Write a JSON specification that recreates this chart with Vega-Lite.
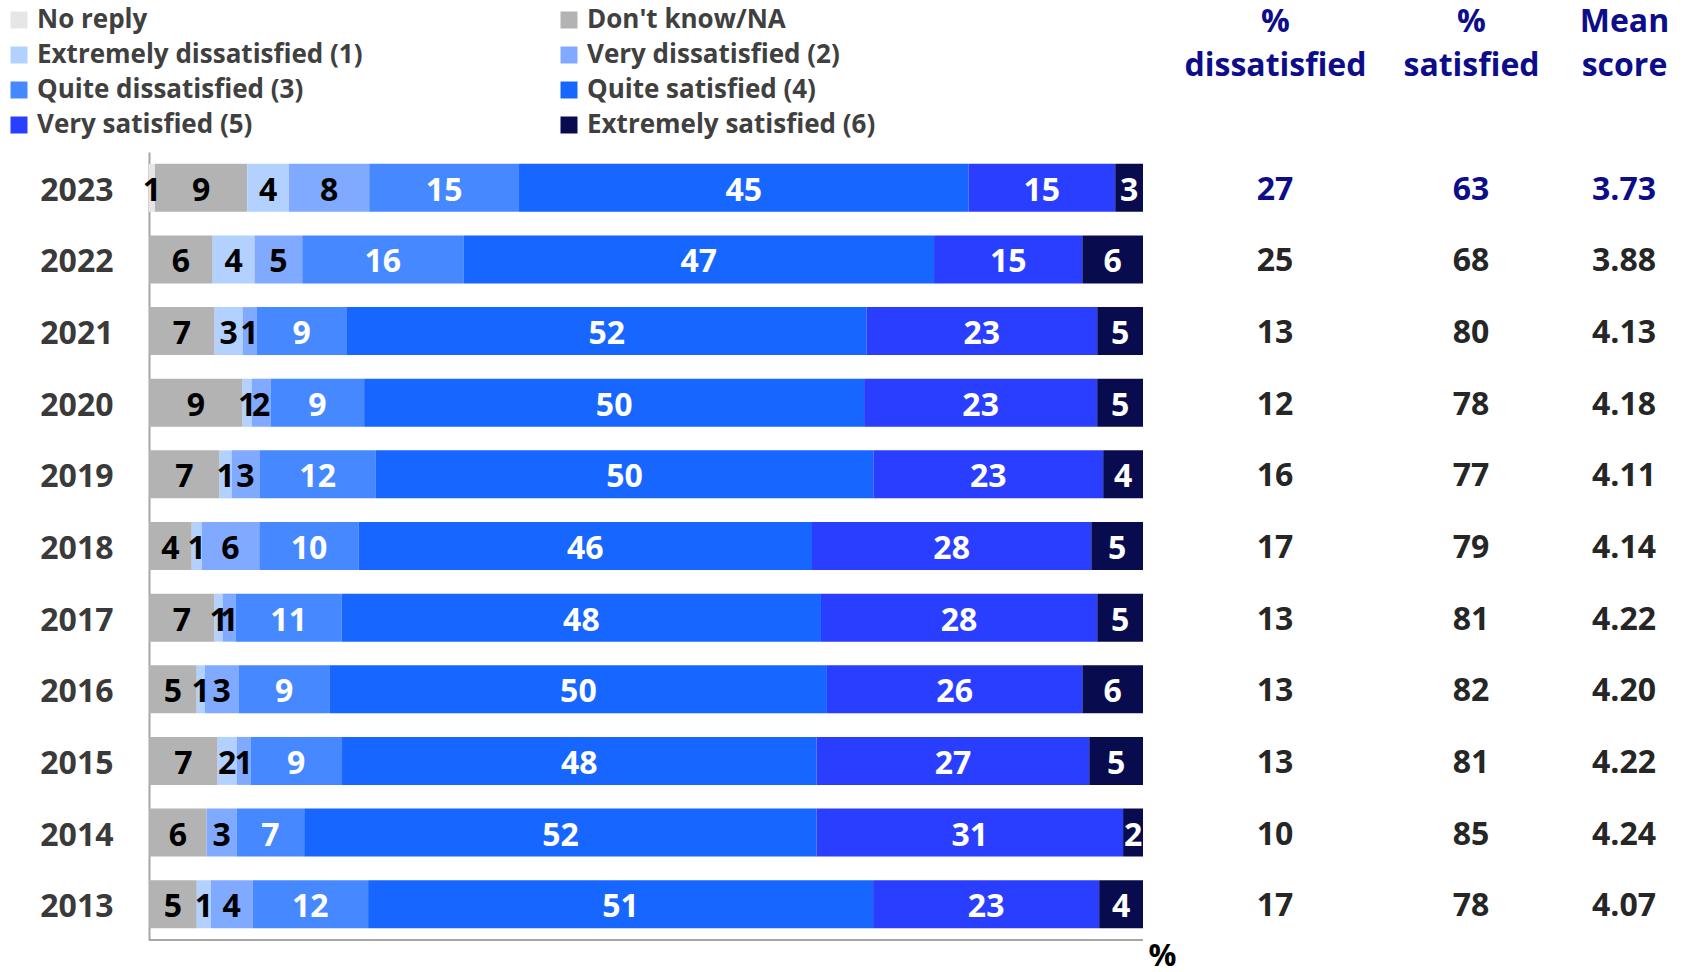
{
  "$schema": "https://vega.github.io/schema/vega-lite/v6.json",
  "width": 1536,
  "height": 788,
  "autosize": {"type": "none"},
  "padding": {"left": 149, "top": 152, "right": 0, "bottom": 32},
  "background": "white",
  "config": {
    "view": {"stroke": null},
    "font": "Open Sans",
    "axis": {"grid": false}
  },
  "datasets": {
    "bars": [
      {"year": 2023, "cat": "No reply", "value": 0.6},
      {"year": 2023, "cat": "Don't know/NA", "value": 9.3},
      {"year": 2023, "cat": "Extremely dissatisfied (1)", "value": 4.2},
      {"year": 2023, "cat": "Very dissatisfied (2)", "value": 8.1},
      {"year": 2023, "cat": "Quite dissatisfied (3)", "value": 15.1},
      {"year": 2023, "cat": "Quite satisfied (4)", "value": 45.3},
      {"year": 2023, "cat": "Very satisfied (5)", "value": 14.8},
      {"year": 2023, "cat": "Extremely satisfied (6)", "value": 2.8},
      {"year": 2022, "cat": "No reply", "value": 0},
      {"year": 2022, "cat": "Don't know/NA", "value": 6.4},
      {"year": 2022, "cat": "Extremely dissatisfied (1)", "value": 4.2},
      {"year": 2022, "cat": "Very dissatisfied (2)", "value": 4.8},
      {"year": 2022, "cat": "Quite dissatisfied (3)", "value": 16.2},
      {"year": 2022, "cat": "Quite satisfied (4)", "value": 47.3},
      {"year": 2022, "cat": "Very satisfied (5)", "value": 14.9},
      {"year": 2022, "cat": "Extremely satisfied (6)", "value": 6.1},
      {"year": 2021, "cat": "No reply", "value": 0},
      {"year": 2021, "cat": "Don't know/NA", "value": 6.6},
      {"year": 2021, "cat": "Extremely dissatisfied (1)", "value": 2.8},
      {"year": 2021, "cat": "Very dissatisfied (2)", "value": 1.4},
      {"year": 2021, "cat": "Quite dissatisfied (3)", "value": 9.1},
      {"year": 2021, "cat": "Quite satisfied (4)", "value": 52.2},
      {"year": 2021, "cat": "Very satisfied (5)", "value": 23.2},
      {"year": 2021, "cat": "Extremely satisfied (6)", "value": 4.6},
      {"year": 2020, "cat": "No reply", "value": 0},
      {"year": 2020, "cat": "Don't know/NA", "value": 9.4},
      {"year": 2020, "cat": "Extremely dissatisfied (1)", "value": 0.9},
      {"year": 2020, "cat": "Very dissatisfied (2)", "value": 1.9},
      {"year": 2020, "cat": "Quite dissatisfied (3)", "value": 9.4},
      {"year": 2020, "cat": "Quite satisfied (4)", "value": 50.2},
      {"year": 2020, "cat": "Very satisfied (5)", "value": 23.4},
      {"year": 2020, "cat": "Extremely satisfied (6)", "value": 4.6},
      {"year": 2019, "cat": "No reply", "value": 0},
      {"year": 2019, "cat": "Don't know/NA", "value": 7.1},
      {"year": 2019, "cat": "Extremely dissatisfied (1)", "value": 1.2},
      {"year": 2019, "cat": "Very dissatisfied (2)", "value": 2.8},
      {"year": 2019, "cat": "Quite dissatisfied (3)", "value": 11.7},
      {"year": 2019, "cat": "Quite satisfied (4)", "value": 50.0},
      {"year": 2019, "cat": "Very satisfied (5)", "value": 23.1},
      {"year": 2019, "cat": "Extremely satisfied (6)", "value": 4.0},
      {"year": 2018, "cat": "No reply", "value": 0},
      {"year": 2018, "cat": "Don't know/NA", "value": 4.3},
      {"year": 2018, "cat": "Extremely dissatisfied (1)", "value": 1.0},
      {"year": 2018, "cat": "Very dissatisfied (2)", "value": 5.8},
      {"year": 2018, "cat": "Quite dissatisfied (3)", "value": 10.0},
      {"year": 2018, "cat": "Quite satisfied (4)", "value": 45.6},
      {"year": 2018, "cat": "Very satisfied (5)", "value": 28.1},
      {"year": 2018, "cat": "Extremely satisfied (6)", "value": 5.2},
      {"year": 2017, "cat": "No reply", "value": 0},
      {"year": 2017, "cat": "Don't know/NA", "value": 6.6},
      {"year": 2017, "cat": "Extremely dissatisfied (1)", "value": 0.8},
      {"year": 2017, "cat": "Very dissatisfied (2)", "value": 1.3},
      {"year": 2017, "cat": "Quite dissatisfied (3)", "value": 10.7},
      {"year": 2017, "cat": "Quite satisfied (4)", "value": 48.2},
      {"year": 2017, "cat": "Very satisfied (5)", "value": 27.8},
      {"year": 2017, "cat": "Extremely satisfied (6)", "value": 4.6},
      {"year": 2016, "cat": "No reply", "value": 0},
      {"year": 2016, "cat": "Don't know/NA", "value": 4.8},
      {"year": 2016, "cat": "Extremely dissatisfied (1)", "value": 0.8},
      {"year": 2016, "cat": "Very dissatisfied (2)", "value": 3.4},
      {"year": 2016, "cat": "Quite dissatisfied (3)", "value": 9.2},
      {"year": 2016, "cat": "Quite satisfied (4)", "value": 50.0},
      {"year": 2016, "cat": "Very satisfied (5)", "value": 25.7},
      {"year": 2016, "cat": "Extremely satisfied (6)", "value": 6.1},
      {"year": 2015, "cat": "No reply", "value": 0},
      {"year": 2015, "cat": "Don't know/NA", "value": 6.9},
      {"year": 2015, "cat": "Extremely dissatisfied (1)", "value": 1.9},
      {"year": 2015, "cat": "Very dissatisfied (2)", "value": 1.4},
      {"year": 2015, "cat": "Quite dissatisfied (3)", "value": 9.2},
      {"year": 2015, "cat": "Quite satisfied (4)", "value": 47.7},
      {"year": 2015, "cat": "Very satisfied (5)", "value": 27.4},
      {"year": 2015, "cat": "Extremely satisfied (6)", "value": 5.4},
      {"year": 2014, "cat": "No reply", "value": 0},
      {"year": 2014, "cat": "Don't know/NA", "value": 5.8},
      {"year": 2014, "cat": "Extremely dissatisfied (1)", "value": 0},
      {"year": 2014, "cat": "Very dissatisfied (2)", "value": 3.0},
      {"year": 2014, "cat": "Quite dissatisfied (3)", "value": 6.8},
      {"year": 2014, "cat": "Quite satisfied (4)", "value": 51.5},
      {"year": 2014, "cat": "Very satisfied (5)", "value": 30.8},
      {"year": 2014, "cat": "Extremely satisfied (6)", "value": 2.0},
      {"year": 2013, "cat": "No reply", "value": 0},
      {"year": 2013, "cat": "Don't know/NA", "value": 4.8},
      {"year": 2013, "cat": "Extremely dissatisfied (1)", "value": 1.4},
      {"year": 2013, "cat": "Very dissatisfied (2)", "value": 4.2},
      {"year": 2013, "cat": "Quite dissatisfied (3)", "value": 11.6},
      {"year": 2013, "cat": "Quite satisfied (4)", "value": 50.7},
      {"year": 2013, "cat": "Very satisfied (5)", "value": 22.7},
      {"year": 2013, "cat": "Extremely satisfied (6)", "value": 4.4}
    ],
    "table": [
      {"year": 2023, "dis": 27, "sat": 63, "mean": 3.73},
      {"year": 2022, "dis": 25, "sat": 68, "mean": 3.88},
      {"year": 2021, "dis": 13, "sat": 80, "mean": 4.13},
      {"year": 2020, "dis": 12, "sat": 78, "mean": 4.18},
      {"year": 2019, "dis": 16, "sat": 77, "mean": 4.11},
      {"year": 2018, "dis": 17, "sat": 79, "mean": 4.14},
      {"year": 2017, "dis": 13, "sat": 81, "mean": 4.22},
      {"year": 2016, "dis": 13, "sat": 82, "mean": 4.20},
      {"year": 2015, "dis": 13, "sat": 81, "mean": 4.22},
      {"year": 2014, "dis": 10, "sat": 85, "mean": 4.24},
      {"year": 2013, "dis": 17, "sat": 78, "mean": 4.07}
    ],
    "axisline": [{"part": "bottom"}]
  },
  "layer": [
    {
      "data": {"name": "bars"},
      "transform": [
        {"stack": "value", "groupby": ["year"], "as": ["v0", "v1"], "offset": "normalize"}
      ],
      "mark": {"type": "bar"},
      "encoding": {
        "y": {
          "field": "year", "type": "ordinal", "sort": "descending",
          "scale": {"paddingInner": 0.33, "paddingOuter": 0.165},
          "axis": {
            "orient": "left", "title": null, "ticks": false, "domain": true,
            "domainColor": "#A6A6A6", "domainWidth": 2,
            "labelFont": "Open Sans", "labelFontSize": 32, "labelFontWeight": "bold",
            "labelColor": "#3A3A3A", "labelPadding": 36, "labelOffset": 3
          }
        },
        "x": {
          "field": "v0", "type": "quantitative",
          "scale": {"domain": [0, 1.54527], "nice": false, "zero": false},
          "axis": {
            "orient": "bottom", "domain": false, "ticks": false, "labels": false, "grid": false,
            "title": "%", "titleX": 999, "titleY": 1, "titleAlign": "left", "titleBaseline": "top",
            "titleFont": "Open Sans", "titleFontSize": 31, "titleFontWeight": "bold", "titleColor": "#000000"
          }
        },
        "x2": {"field": "v1"},
        "color": {
          "field": "cat", "type": "nominal",
          "scale": {
            "domain": ["No reply", "Extremely dissatisfied (1)", "Quite dissatisfied (3)", "Very satisfied (5)", "Don't know/NA", "Very dissatisfied (2)", "Quite satisfied (4)", "Extremely satisfied (6)"],
            "range": ["#E6E6E6", "#B3D1FF", "#4688FF", "#2A3EFF", "#B3B3B3", "#80AAFF", "#1666FF", "#080C4E"]
          },
          "legend": {
            "orient": "none", "legendX": -143, "legendY": -145, "columns": 2, "title": null,
            "symbolType": "square", "symbolSize": 289, "symbolStrokeWidth": 0,
            "labelFont": "Open Sans", "labelFontSize": 26, "labelFontWeight": "bold", "labelColor": "#404040",
            "labelLimit": 0, "columnPadding": 193, "rowPadding": 9, "labelOffset": 5
          }
        }
      }
    },
    {
      "data": {"name": "bars"},
      "transform": [
        {"stack": "value", "groupby": ["year"], "as": ["v0", "v1"], "offset": "normalize"},
        {"calculate": "(datum.v0 + datum.v1) / 2", "as": "mid"},
        {"filter": "datum.value > 0"}
      ],
      "mark": {"type": "text", "font": "Open Sans", "fontSize": 32, "fontWeight": "bold", "baseline": "middle", "align": "center", "dy": 3},
      "encoding": {
        "y": {"field": "year", "type": "ordinal", "sort": "descending", "scale": {"paddingInner": 0.33, "paddingOuter": 0.165}, "axis": null},
        "x": {"field": "mid", "type": "quantitative", "axis": null},
        "text": {"field": "value", "type": "quantitative", "format": ".0f"},
        "color": {
          "condition": {"test": "test(/^(No reply|Don|Extremely dis|Very dis)/, datum.cat)", "value": "#000000"},
          "value": "#FFFFFF"
        }
      }
    },
    {
      "data": {"name": "table"},
      "mark": {"type": "text", "font": "Open Sans", "fontSize": 32, "fontWeight": "bold", "baseline": "middle", "align": "center", "dy": 2},
      "encoding": {
        "y": {"field": "year", "type": "ordinal", "sort": "descending", "scale": {"paddingInner": 0.33, "paddingOuter": 0.165}, "axis": null},
        "x": {
          "datum": 1.1328, "type": "quantitative",
          "axis": {
            "orient": "top", "values": [1.1328, 1.33, 1.4839],
            "labelExpr": "datum.value < 1.2 ? ['%', 'dissatisfied'] : datum.value < 1.4 ? ['%', 'satisfied'] : ['Mean', 'score']",
            "ticks": false, "domain": false, "grid": false, "labelFlush": false, "labelOverlap": false,
            "labelPadding": 114, "labelFont": "Open Sans", "labelFontSize": 32, "labelFontWeight": "bold",
            "labelColor": "#0D0D8A", "labelLineHeight": 44, "labelBaseline": "bottom", "labelBound": false,
            "labelLimit": 0, "title": null
          }
        },
        "text": {"field": "dis", "type": "quantitative", "format": ".0f"},
        "color": {"condition": {"test": "datum.year == 2023", "value": "#0D0D8A"}, "value": "#262626"}
      }
    },
    {
      "data": {"name": "table"},
      "mark": {"type": "text", "font": "Open Sans", "fontSize": 32, "fontWeight": "bold", "baseline": "middle", "align": "center", "dy": 2},
      "encoding": {
        "y": {"field": "year", "type": "ordinal", "sort": "descending", "scale": {"paddingInner": 0.33, "paddingOuter": 0.165}, "axis": null},
        "x": {"datum": 1.33, "type": "quantitative", "axis": null},
        "text": {"field": "sat", "type": "quantitative", "format": ".0f"},
        "color": {"condition": {"test": "datum.year == 2023", "value": "#0D0D8A"}, "value": "#262626"}
      }
    },
    {
      "data": {"name": "table"},
      "mark": {"type": "text", "font": "Open Sans", "fontSize": 32, "fontWeight": "bold", "baseline": "middle", "align": "center", "dy": 2},
      "encoding": {
        "y": {"field": "year", "type": "ordinal", "sort": "descending", "scale": {"paddingInner": 0.33, "paddingOuter": 0.165}, "axis": null},
        "x": {"datum": 1.4839, "type": "quantitative", "axis": null},
        "text": {"field": "mean", "type": "quantitative", "format": ".2f"},
        "color": {"condition": {"test": "datum.year == 2023", "value": "#0D0D8A"}, "value": "#262626"}
      }
    },
    {
      "data": {"name": "axisline"},
      "mark": {"type": "rule", "color": "#A6A6A6", "strokeWidth": 2},
      "encoding": {
        "x": {"datum": 0, "type": "quantitative", "axis": null},
        "x2": {"datum": 1},
        "y": {"datum": 0, "type": "quantitative", "scale": {"domain": [0, 1]}, "axis": null}
      }
    }
  ],
  "resolve": {"scale": {"y": "independent"}, "axis": {"x": "independent", "y": "independent"}}
}
